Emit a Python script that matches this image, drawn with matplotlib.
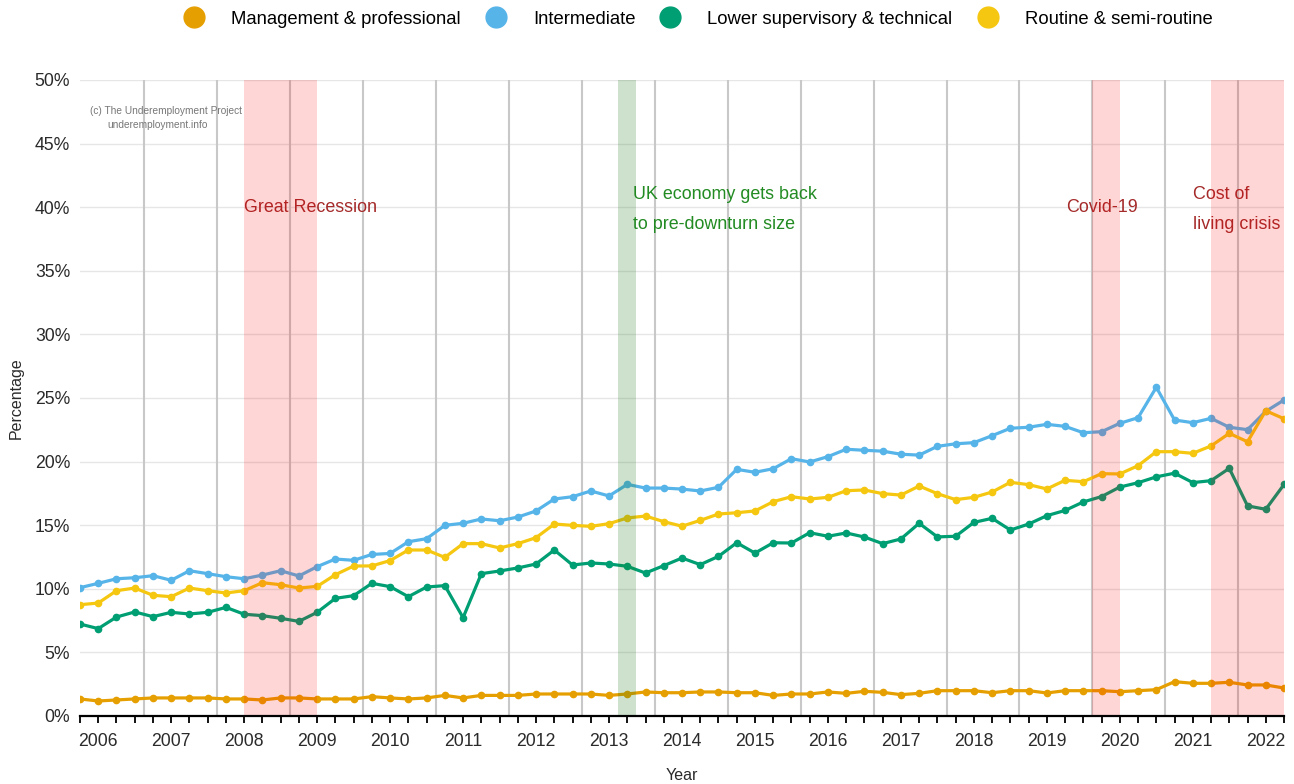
import numpy as np
import matplotlib.pyplot as plt
from matplotlib.lines import Line2D

plt.rcParams['font.family'] = ['Liberation Sans', 'DejaVu Sans']

# quarterly series, first point is 2005 Q4, last is 2022 Q2
management = [1.34, 1.18, 1.26, 1.34, 1.42, 1.42, 1.42, 1.42, 1.34, 1.34, 1.26, 1.42, 1.42, 1.34,
              1.34, 1.34, 1.52, 1.42, 1.34, 1.42, 1.62, 1.42, 1.62, 1.62, 1.62, 1.73, 1.73, 1.73,
              1.73, 1.62, 1.73, 1.89, 1.83, 1.83, 1.89, 1.89, 1.83, 1.83, 1.62, 1.73, 1.73, 1.89,
              1.78, 1.94, 1.86, 1.68, 1.78, 1.99, 1.99, 1.99, 1.83, 1.99, 1.99, 1.81, 1.99, 1.99,
              1.99, 1.91, 1.99, 2.07, 2.70, 2.57, 2.57, 2.65, 2.44, 2.44, 2.20]
intermediate = [10.09, 10.43, 10.79, 10.87, 11.03, 10.67, 11.42, 11.19, 10.95, 10.79, 11.08, 11.42,
                11.01, 11.74, 12.34, 12.24, 12.70, 12.78, 13.70, 13.94, 14.99, 15.15, 15.49, 15.35,
                15.64, 16.12, 17.06, 17.24, 17.69, 17.30, 18.21, 17.92, 17.92, 17.84, 17.69, 17.98,
                19.39, 19.16, 19.44, 20.23, 19.97, 20.39, 20.97, 20.89, 20.82, 20.58, 20.51, 21.20,
                21.40, 21.49, 22.04, 22.62, 22.70, 22.93, 22.77, 22.27, 22.35, 23.01, 23.45, 25.84,
                23.27, 23.06, 23.40, 22.70, 22.51, 23.95, 24.84]
lower_sup = [7.23, 6.87, 7.78, 8.18, 7.81, 8.15, 8.02, 8.15, 8.54, 8.00, 7.89, 7.68, 7.44, 8.15,
             9.25, 9.46, 10.43, 10.17, 9.38, 10.14, 10.25, 7.73, 11.19, 11.40, 11.64, 11.95, 13.05,
             11.87, 12.03, 11.95, 11.77, 11.24, 11.82, 12.42, 11.90, 12.55, 13.62, 12.81, 13.62,
             13.60, 14.41, 14.13, 14.39, 14.07, 13.55, 13.92, 15.15, 14.08, 14.13, 15.22, 15.54,
             14.62, 15.09, 15.75, 16.16, 16.83, 17.25, 18.00, 18.34, 18.80, 19.09, 18.35, 18.50,
             19.47, 16.52, 16.25, 18.20]
routine = [8.75, 8.88, 9.85, 10.06, 9.49, 9.38, 10.06, 9.85, 9.67, 9.85, 10.48, 10.32, 10.06, 10.19,
           11.11, 11.79, 11.80, 12.22, 13.05, 13.05, 12.47, 13.55, 13.55, 13.21, 13.55, 14.02, 15.09,
           14.99, 14.91, 15.12, 15.57, 15.72, 15.28, 14.92, 15.38, 15.88, 15.98, 16.12, 16.85,
           17.24, 17.06, 17.19, 17.71, 17.77, 17.48, 17.37, 18.08, 17.48, 17.01, 17.19, 17.61,
           18.37, 18.19, 17.85, 18.53, 18.42, 19.05, 19.03, 19.68, 20.78, 20.78, 20.65, 21.23,
           22.22, 21.56, 24.00, 23.37]

series_names = ['Management & professional', 'Intermediate',
                'Lower supervisory & technical', 'Routine & semi-routine']
series_colors = ['#E69F00', '#56B4E9', '#009E73', '#F5C710']
years = list(range(2006, 2023))

# shaded periods in quarter index units
recession = (9, 13)
recovery = (29.5, 30.5)
covid = (55.5, 57)
cost_living = (62, 66)

n = len(management)
x = np.arange(n)

fig = plt.figure(figsize=(12.94, 7.84), dpi=100)
ax = fig.add_axes([80/1294, 68/784, 1204/1294, 636/784])

for v in np.arange(5, 51, 5):
    ax.axhline(v, color='#e6e6e6', lw=1, zorder=0)
for k in range(len(years)):
    ax.axvline(3.5 + 4*k, color='#c8c8c8', lw=1.5, zorder=1)

for vals, c in zip([management, intermediate, lower_sup, routine], series_colors):
    ax.plot(x, vals, color=c, lw=2.3, marker='o', ms=4.5, zorder=2)

ax.axvspan(*recession, color='#ff0000', alpha=0.16, lw=0, zorder=3)
ax.axvspan(*recovery, color='#1f7a1f', alpha=0.22, lw=0, zorder=3)
ax.axvspan(*covid, color='#ff0000', alpha=0.16, lw=0, zorder=3)
ax.axvspan(*cost_living, color='#ff0000', alpha=0.16, lw=0, zorder=3)

red_txt = '#a52a2a'
ax.text(9, 40, 'Great Recession', color=red_txt, fontsize=12.9, va='center', ha='left', zorder=1.5)
ax.text(30.3, 39.85, 'UK economy gets back\nto pre-downturn size', color='#228b22', fontsize=12.9,
        va='center', ha='left', linespacing=2.0, zorder=1.5)
ax.text(56, 40, 'Covid-19', color=red_txt, fontsize=12.9, va='center', ha='center', zorder=1.5)
ax.text(61, 39.85, 'Cost of\nliving crisis', color=red_txt, fontsize=12.9, va='center', ha='left',
        linespacing=2.0, zorder=1.5)
ax.text(0.55, 47.55, '(c) The Underemployment Project', color='#777777', fontsize=7.3, va='center')
ax.text(1.5, 46.45, 'underemployment.info', color='#777777', fontsize=7.3, va='center')

ax.set_xlim(0, n - 1)
ax.set_ylim(0, 50)
ax.set_yticks(np.arange(0, 51, 5))
ax.set_yticklabels([f'{v}%' for v in range(0, 51, 5)])
ax.set_xticks(x, minor=True)
ax.set_xticks([1 + 4*k for k in range(len(years))])
ax.set_xticklabels([str(y) for y in years])
ax.tick_params(axis='y', length=0, pad=7, labelsize=12.7, labelcolor='#2a2a2a')
ax.tick_params(axis='x', which='both', length=5, width=1.3, color='black', pad=7,
               labelsize=12.7, labelcolor='#2a2a2a')
for s in ['top', 'right', 'left']:
    ax.spines[s].set_visible(False)
ax.spines['bottom'].set_linewidth(1.6)
ax.spines['bottom'].set_zorder(4)

ax.set_ylabel('Percentage', fontsize=11.5, color='#2a2a2a', labelpad=8)
ax.set_xlabel('Year', fontsize=11.5, color='#2a2a2a', labelpad=13)

handles = [Line2D([], [], ls='none', marker='o', ms=15, color=c) for c in series_colors]
fig.legend(handles, series_names, loc='center', bbox_to_anchor=(694/1294, 1 - 19/784), ncol=4,
           frameon=False, fontsize=13.3, handletextpad=1.0, columnspacing=0.9)

fig.savefig('out.png', dpi=100)
